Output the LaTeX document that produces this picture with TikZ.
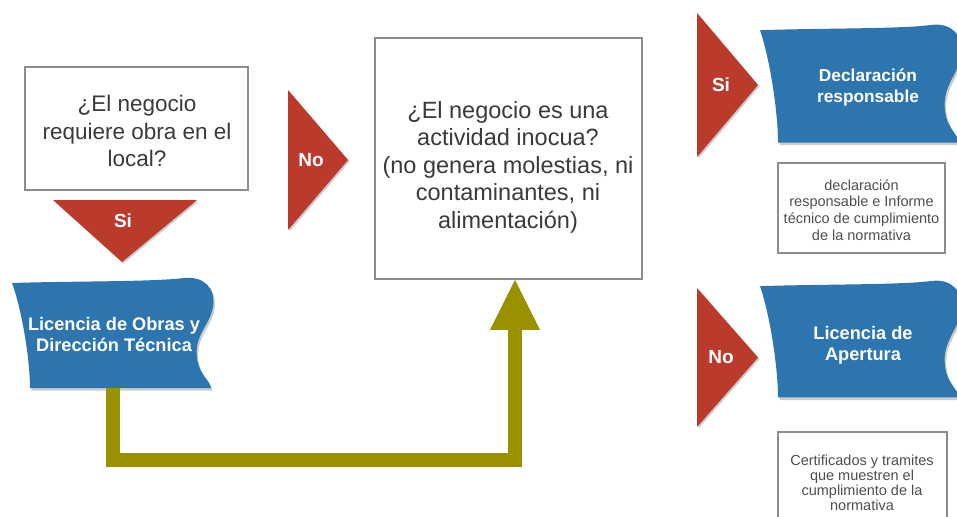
\documentclass[tikz,border=0pt]{standalone}
\usepackage{fontspec}
\setmainfont{Liberation Sans}
\usetikzlibrary{arrows.meta}
\definecolor{flagblue}{RGB}{44,117,174}
\definecolor{tri}{RGB}{186,58,43}
\definecolor{olivec}{RGB}{153,145,0}
\definecolor{boxgray}{RGB}{140,140,140}
\definecolor{txt}{RGB}{58,58,58}
\tikzset{
 qbox/.style={draw=boxgray, line width=1.6pt, fill=white, inner sep=0pt},
 bigtext/.style={text=txt, align=center, inner sep=0pt},
 smalltext/.style={text=txt!90, align=center, inner sep=0pt},
 flagtext/.style={text=white, align=center, inner sep=0pt, font=\bfseries\fontsize{18.2}{21}\selectfont},
 tritext/.style={text=white, inner sep=0pt, font=\bfseries\fontsize{19}{21}\selectfont},
 trifill/.style={fill=tri},
 tshadow/.style={fill=black, opacity=.2},
 olivearrow/.style={draw=olivec, line width=14pt, -{Triangle[length=50pt, width=50pt, line width=0pt]}},
 flagshape/.pic={
  \fill[black, opacity=.2, shift={(1.5,2.5)}] (0,3) .. controls (60,1) and (140,2) .. (172,-2) .. controls (192,-4) and (204,8) .. (201,27) .. controls (198,45) and (182,55) .. (185,78) .. controls (187,95) and (198,100) .. (199,108) -- (18,108) .. controls (18,80) and (10,30) .. (0,3) -- cycle;
  \fill[flagblue] (0,3) .. controls (60,1) and (140,2) .. (172,-2) .. controls (192,-4) and (204,8) .. (201,27) .. controls (198,45) and (182,55) .. (185,78) .. controls (187,95) and (198,100) .. (199,108) -- (18,108) .. controls (18,80) and (10,30) .. (0,3) -- cycle;
 }
}
\begin{document}
\begin{tikzpicture}[x=1pt,y=-1pt]
\useasboundingbox (0,0) rectangle (957,516);
\fill[white] (0,0) rectangle (957,516);
\begin{scope}
\clip (0,0) rectangle (957,516);

% question boxes
\node[qbox, minimum width=223pt, minimum height=123pt] (q1) at (136.5,128.5) {};
\node[bigtext, font=\fontsize{22.5}{27.5}\selectfont] (q1t) at (137,131) {¿El negocio\\requiere obra en el\\local?};

\node[qbox, minimum width=267pt, minimum height=241pt] (big) at (508.5,158.5) {};
\node[bigtext, font=\fontsize{23.5}{27.5}\selectfont] (bigt) at (508,167) {¿El negocio es una\\actividad inocua?\\(no genera molestias, ni\\contaminantes, ni\\alimentación)};

% small boxes
\node[qbox, line width=1.3pt, minimum width=167pt, minimum height=90pt] (s1) at (861.5,208) {};
\node[smalltext, font=\fontsize{14.5}{16.7}\selectfont] (s1t) at (861.5,210) {declaración\\responsable e Informe\\técnico de cumplimiento\\de la normativa};

\node[qbox, line width=1.3pt, minimum width=169pt, minimum height=100pt] (s2) at (862.5,482) {};
\node[smalltext, font=\fontsize{14.5}{15}\selectfont] (s2t) at (862,482.5) {Certificados y tramites\\que muestren el\\cumplimiento de la\\normativa};

% red triangles
\fill[tshadow] (54.5,201.5) -- (198.5,201.5) -- (123.5,263.5) -- cycle;
\fill[trifill] (53,200) -- (197,200) -- (122,262) -- cycle;
\node[tritext] (si1) at (123,221) {Si};

\fill[tshadow] (289.5,91.5) -- (349.5,161.5) -- (289.5,231.5) -- cycle;
\fill[trifill] (288,90) -- (348,160) -- (288,230) -- cycle;
\node[tritext] (no1) at (311,160) {No};

\fill[tshadow] (698.5,14.5) -- (759.5,86.5) -- (698.5,158.5) -- cycle;
\fill[trifill] (697,13) -- (758,85) -- (697,157) -- cycle;
\node[tritext] (si2) at (721,85) {Si};

\fill[tshadow] (698.5,289.5) -- (759.5,359) -- (698.5,428.5) -- cycle;
\fill[trifill] (697,288) -- (758,357.5) -- (697,427) -- cycle;
\node[tritext] (no2) at (721,357) {No};

% flags
\pic at (12,280) {flagshape};
\pic[yscale=1.07] at (760,27) {flagshape};
\pic[yscale=1.06] at (760,283) {flagshape};

\node[flagtext, minimum width=198pt, minimum height=108pt] (obras) at (114,334) {Licencia de Obras y\\Dirección Técnica};
\node[flagtext, font=\bfseries\fontsize{17.3}{21}\selectfont] (decl) at (868,87) {Declaración\\responsable};
\node[flagtext] (apert) at (863,345) {Licencia de\\Apertura};

% connector
\draw[olivearrow] ([xshift=-1pt]obras.south) -- ++(0,72) -| ([xshift=6.5pt]big.south);
\end{scope}
\end{tikzpicture}
\end{document}
